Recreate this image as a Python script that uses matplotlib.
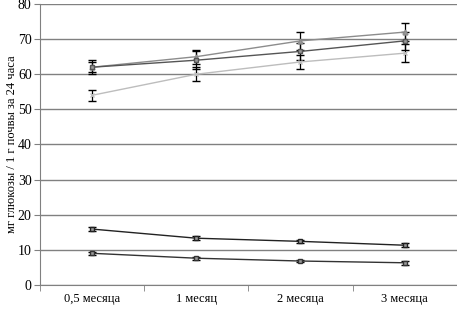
import numpy as np
import matplotlib.pyplot as plt
from matplotlib.ticker import FixedLocator

plt.rcParams['font.family'] = ['Liberation Serif', 'DejaVu Serif']

# categories on the x axis
periods = ["0,5 месяца", "1 месяц", "2 месяца", "3 месяца"]

# upper group of series
upper_a = [62.0, 65.0, 69.5, 72.0]
upper_a_err = [2.0, 2.0, 2.5, 2.5]
upper_b = [62.0, 64.0, 66.5, 69.5]
upper_b_err = [1.5, 2.5, 2.5, 2.5]
upper_c = [54.0, 60.0, 63.5, 66.0]
upper_c_err = [1.5, 2.0, 2.0, 2.5]

# lower group of series
lower_d = [15.9, 13.3, 12.4, 11.3]
lower_d_err = [0.6, 0.5, 0.5, 0.5]
lower_e = [9.0, 7.6, 6.8, 6.3]
lower_e_err = [0.5, 0.4, 0.4, 0.5]


def main():
    fig = plt.figure(figsize=(4.57, 3.09), dpi=100)
    ax = fig.add_axes([0.0875, 0.078, 0.912, 0.909])
    x = np.arange(len(periods))

    series = [
        (upper_a, upper_a_err, '#8c8c8c', '^'),
        (upper_b, upper_b_err, '#555555', 's'),
        (upper_c, upper_c_err, '#bdbdbd', 'x'),
        (lower_d, lower_d_err, '#222222', 's'),
        (lower_e, lower_e_err, '#333333', 's'),
    ]
    for vals, err, col, mk in series:
        ax.errorbar(x, vals, yerr=err, color=col, lw=1.0, marker=mk,
                    ms=3.5, mfc='#9a9a9a', mec=col, ecolor='black',
                    elinewidth=0.9, capsize=3, capthick=1.0, zorder=3)

    ax.set_xlim(-0.5, len(periods) - 0.5)
    ax.set_ylim(0, 80)
    ax.set_yticks(np.arange(0, 81, 10))
    ax.yaxis.grid(True, color='#808080', lw=1.0)
    ax.set_axisbelow(True)

    ax.set_xticks(x)
    ax.set_xticklabels(periods)
    ax.xaxis.set_minor_locator(FixedLocator(np.arange(-0.5, len(periods), 1)))
    ax.tick_params(axis='x', which='major', length=0, pad=6, labelsize=9)
    ax.tick_params(axis='x', which='minor', length=4, color='#808080',
                   direction='out')
    ax.tick_params(axis='y', length=4, color='#808080', labelsize=10,
                   pad=2)

    for side in ['top', 'right']:
        ax.spines[side].set_visible(False)
    for side in ['left', 'bottom']:
        ax.spines[side].set_color('#808080')

    ax.set_ylabel('мг глюкозы / 1 г почвы за 24 часа', fontsize=9)
    ax.yaxis.set_label_coords(-0.053, 0.5)

    fig.savefig('out.png', dpi=100)


if __name__ == "__main__":
    main()
